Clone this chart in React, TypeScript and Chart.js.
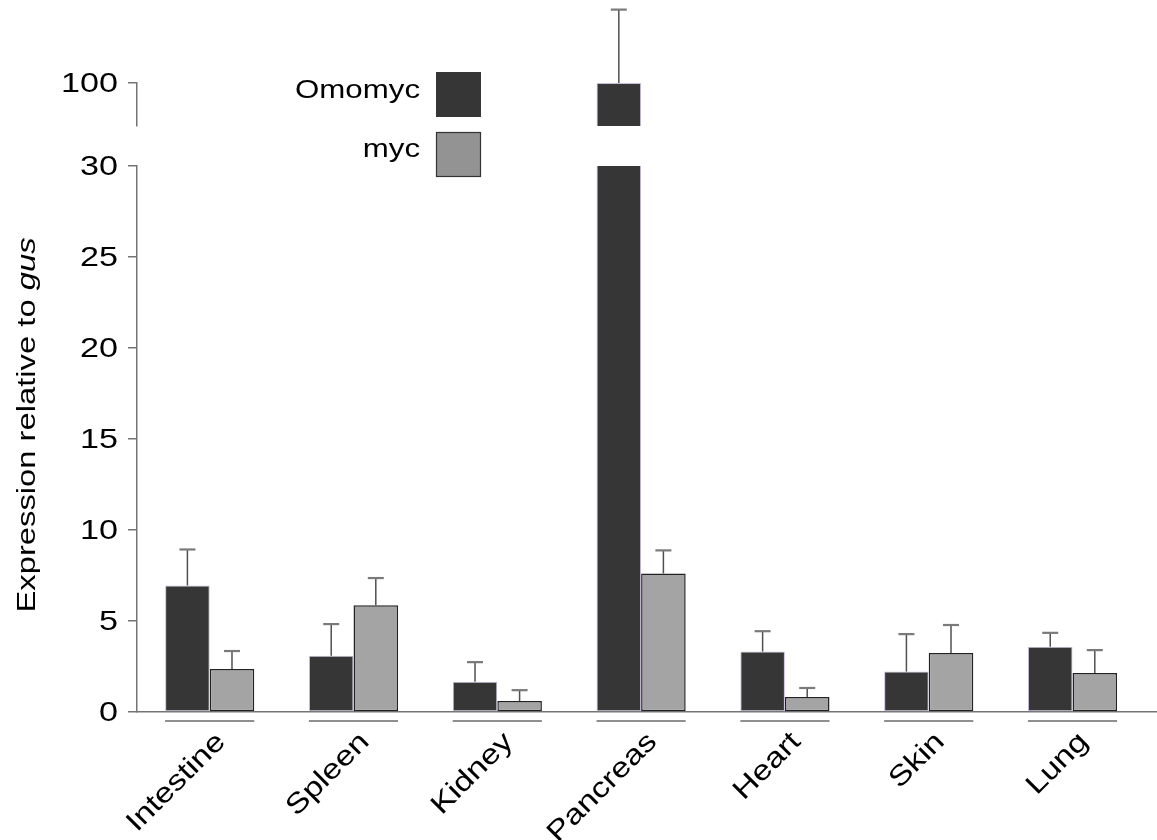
import { useEffect, useRef } from 'react';
import { Chart, registerables } from 'chart.js';

Chart.register(...registerables);

// ---------------- data ----------------
const CATEGORIES = ['Intestine', 'Spleen', 'Kidney', 'Pancreas', 'Heart', 'Skin', 'Lung'];
const SERIES = ['Omomyc', 'myc'];
const OMOMYC = [6.95, 3.09, 1.66, 100, 3.32, 2.22, 3.58];
const OMOMYC_ERR = [1.98, 1.74, 1.08, 25.6, 1.12, 2.06, 0.77];
const MYC = [2.36, 5.87, 0.6, 7.61, 0.82, 3.24, 2.14];
const MYC_ERR = [0.99, 1.49, 0.6, 1.27, 0.5, 1.54, 1.26];
const LOWER_TICKS = [0, 5, 10, 15, 20, 25, 30];
const UPPER_TICKS = [100];
const LOWER_RANGE = [0, 30];
const UPPER_RANGE = [85, 100];

// ---------------- style ----------------
const FONT = '"Liberation Sans", Arial, Helvetica, sans-serif';
const OMOMYC_COLOR = '#363636';
const OMOMYC_EDGE = '#c9bddc';
const MYC_COLOR = '#a4a4a4';
const MYC_EDGE = '#222222';
const AXIS_COLOR = '#747474';

function drawText(
  ctx: CanvasRenderingContext2D,
  text: string,
  x: number,
  y: number,
  size: number,
  stretch: number,
  align: CanvasTextAlign,
  baseline: CanvasTextBaseline,
  rotation = 0,
) {
  ctx.save();
  ctx.translate(x, y);
  if (rotation) ctx.rotate(rotation);
  ctx.scale(stretch, 1);
  ctx.font = `${size}px ${FONT}`;
  ctx.textAlign = align;
  ctx.textBaseline = baseline;
  ctx.fillStyle = '#000';
  ctx.fillText(text, 0, 0);
  ctx.restore();
}

const axisClip = {
  id: 'axisClip',
  beforeDatasetDraw(chart: any, args: any) {
    const meta = args.meta;
    const ys = chart.scales[meta.yAxisID];
    const { ctx, chartArea } = chart;
    const top = meta.yAxisID === 'y2' ? 0 : ys.top - 3;
    const bottom = ys.bottom + 1;
    ctx.save();
    ctx.beginPath();
    ctx.rect(chartArea.left, top, chartArea.right - chartArea.left, bottom - top);
    ctx.clip();
  },
  afterDatasetDraw(chart: any, args: any) {
    const meta = args.meta;
    const ds = chart.data.datasets[args.index];
    const ys = chart.scales[meta.yAxisID];
    const ctx = chart.ctx;
    meta.data.forEach((el: any, i: number) => {
      const v = ds.data[i].y;
      if (v === null || v === undefined) return;
      const yTop = ys.getPixelForValue(v + ds.errors[i]);
      const yBar = ys.getPixelForValue(v);
      ctx.strokeStyle = '#505050';
      ctx.lineWidth = 1.5;
      ctx.beginPath();
      ctx.moveTo(el.x, yBar);
      ctx.lineTo(el.x, yTop);
      ctx.stroke();
      ctx.strokeStyle = '#7a7a7a';
      ctx.lineWidth = 2.2;
      ctx.beginPath();
      ctx.moveTo(el.x - 8, yTop);
      ctx.lineTo(el.x + 8, yTop);
      ctx.stroke();
    });
    ctx.restore();
  },
};

const decorations = {
  id: 'decorations',
  afterDraw(chart: any) {
    const { ctx } = chart;
    const xs = chart.scales.x;
    const y = chart.scales.y;
    const y2 = chart.scales.y2;

    // group underlines
    const m0 = chart.getDatasetMeta(0);
    const m1 = chart.getDatasetMeta(1);
    ctx.save();
    ctx.strokeStyle = '#6a6a6a';
    ctx.lineWidth = 1.5;
    CATEGORIES.forEach((_, i) => {
      const a = m0.data[i];
      const b = m1.data[i];
      const ly = xs.top + 9;
      ctx.beginPath();
      ctx.moveTo(a.x - a.width / 2, ly);
      ctx.lineTo(b.x + b.width / 2, ly);
      ctx.stroke();
    });
    ctx.restore();

    // y tick labels
    [y, y2].forEach((s: any) => {
      s.ticks.forEach((t: any) => {
        drawText(ctx, String(t.value), 118, s.getPixelForValue(t.value) + 1, 28, 1.22, 'right', 'middle');
      });
    });

    // x labels, rotated
    CATEGORIES.forEach((c, i) => {
      drawText(ctx, c, xs.getPixelForValue(i) + 17, xs.top + 31, 28, 1.2, 'right', 'alphabetic', -Math.PI / 4);
    });

    // y title with italic "gus"
    const p1 = 'Expression relative to ';
    const p2 = 'gus';
    ctx.save();
    ctx.translate(35, 425);
    ctx.rotate(-Math.PI / 2);
    ctx.scale(1.26, 1);
    ctx.fillStyle = '#000';
    ctx.textBaseline = 'alphabetic';
    ctx.textAlign = 'left';
    ctx.font = `26px ${FONT}`;
    const w1 = ctx.measureText(p1).width;
    ctx.font = `italic 26px ${FONT}`;
    const w2 = ctx.measureText(p2).width;
    const start = -(w1 + w2) / 2;
    ctx.font = `26px ${FONT}`;
    ctx.fillText(p1, start, 0);
    ctx.font = `italic 26px ${FONT}`;
    ctx.fillText(p2, start + w1, 0);
    ctx.restore();

    // legend
    const boxes = [
      { top: 72, fill: OMOMYC_COLOR, edge: null as string | null, base: 98 },
      { top: 132, fill: '#939393', edge: '#333', base: 157 },
    ];
    SERIES.forEach((name, i) => {
      const b = boxes[i];
      ctx.save();
      ctx.fillStyle = b.fill;
      ctx.fillRect(436, b.top, 45, 45);
      if (b.edge) {
        ctx.strokeStyle = b.edge;
        ctx.lineWidth = 1.2;
        ctx.strokeRect(436.5, b.top + 0.5, 44, 44);
      }
      ctx.restore();
      drawText(ctx, name, 420, b.base, 25, 1.25, 'right', 'alphabetic');
    });
  },
};

export default function App() {
  const ref = useRef<HTMLCanvasElement>(null);

  useEffect(() => {
    const canvas = ref.current;
    if (!canvas) return;
    const yAxisCommon = {
      type: 'linear',
      position: 'left',
      stack: 'v',
      ticks: { display: false },
      grid: { display: true, drawOnChartArea: false, drawTicks: true, tickLength: 9, color: AXIS_COLOR, lineWidth: 1.5 },
      border: { display: true, color: AXIS_COLOR, width: 1.5 },
      afterFit: (s: any) => {
        s.width = 137;
      },
    };
    const chart = new Chart(canvas, {
      type: 'bar',
      data: {
        datasets: [
          {
            label: SERIES[0],
            data: OMOMYC.map((v, i) => ({ x: i, y: v })),
            errors: OMOMYC_ERR,
            yAxisID: 'y',
            stack: 'omomyc',
            backgroundColor: OMOMYC_COLOR,
            borderColor: OMOMYC_EDGE,
            borderWidth: 1,
            borderSkipped: false,
          },
          {
            label: SERIES[1],
            data: MYC.map((v, i) => ({ x: i, y: v })),
            errors: MYC_ERR,
            yAxisID: 'y',
            stack: 'myc',
            backgroundColor: MYC_COLOR,
            borderColor: MYC_EDGE,
            borderWidth: 1.5,
            borderSkipped: false,
          },
          {
            label: SERIES[0],
            data: OMOMYC.map((v, i) => ({ x: i, y: v > UPPER_RANGE[0] ? v : null })),
            errors: OMOMYC_ERR,
            yAxisID: 'y2',
            stack: 'omomyc',
            backgroundColor: OMOMYC_COLOR,
            borderColor: OMOMYC_EDGE,
            borderWidth: 1,
            borderSkipped: false,
          },
        ] as any,
      },
      options: {
        animation: false,
        responsive: true,
        maintainAspectRatio: false,
        layout: { padding: { top: 83, left: 0, right: 0, bottom: 0 } },
        datasets: { bar: { categoryPercentage: 0.62, barPercentage: 1 } },
        plugins: { legend: { display: false }, tooltip: { enabled: false } },
        scales: {
          x: {
            type: 'linear',
            position: 'bottom',
            offset: false,
            min: -0.5056,
            max: 6.5875,
            grid: { display: false },
            ticks: { display: false },
            border: { display: true, color: AXIS_COLOR, width: 1.5 },
            afterBuildTicks: (s: any) => {
              s.ticks = CATEGORIES.map((_, i) => ({ value: i }));
            },
            afterFit: (s: any) => {
              s.height = 128;
            },
          },
          y: {
            ...yAxisCommon,
            stackWeight: 546,
            weight: 0,
            min: LOWER_RANGE[0],
            max: LOWER_RANGE[1],
            afterBuildTicks: (s: any) => {
              s.ticks = LOWER_TICKS.map((value) => ({ value }));
            },
          },
          gap: {
            type: 'linear',
            position: 'left',
            stack: 'v',
            stackWeight: 40,
            weight: 1,
            min: 0,
            max: 1,
            ticks: { display: false },
            grid: { display: false },
            border: { display: false },
            afterFit: (s: any) => {
              s.width = 137;
            },
          },
          y2: {
            ...yAxisCommon,
            stackWeight: 43,
            weight: 2,
            min: UPPER_RANGE[0],
            max: UPPER_RANGE[1],
            afterBuildTicks: (s: any) => {
              s.ticks = UPPER_TICKS.map((value) => ({ value }));
            },
          },
        } as any,
      },
      plugins: [axisClip, decorations],
    } as any);
    return () => chart.destroy();
  }, []);

  return (
    <div style={{ position: 'fixed', left: 0, top: 0, width: 1157, height: 840, background: '#fff' }}>
      <canvas ref={ref} />
    </div>
  );
}
